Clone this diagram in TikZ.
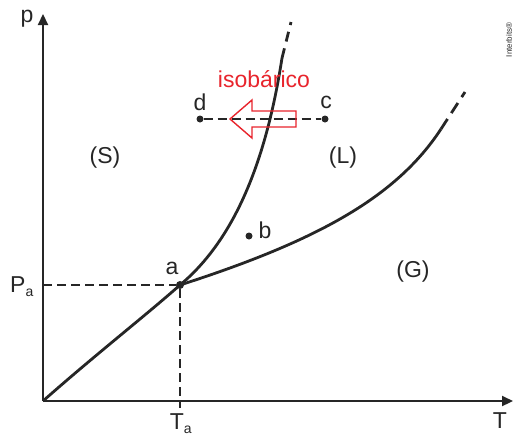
\documentclass[tikz,border=0pt]{standalone}
\usepackage{fontspec}
\setmainfont{Liberation Sans}
\usetikzlibrary{positioning, arrows.meta, calc}
\definecolor{isored}{RGB}{232,36,44}

\begin{document}
\begin{tikzpicture}[x=1pt, y=-1pt, font=\fontsize{23}{25}\selectfont]

% --- Styles ---
\tikzset{
    axisline/.style={line width=2.2pt, draw=black!85},
    phaseline/.style={line width=2.8pt, draw=black!85},
    guideline/.style={line width=1.8pt, draw=black!85, dash pattern=on 9pt off 5pt},
    statedot/.style={circle, fill=black!85, inner sep=0pt, minimum size=7pt},
    regionlabel/.style={text=black!85, inner sep=0pt},
}

\useasboundingbox (0,0) rectangle (516,437);

% --- Axes ---
\coordinate (orig) at (43,401);
\coordinate (ptop) at (43,14);
\coordinate (tend) at (513,401);
\draw[axisline, -{Triangle[length=11pt, width=10pt]}] (orig) -- (ptop);
\draw[axisline, -{Triangle[length=11pt, width=10pt]}] (orig) -- (tend);
\node[regionlabel] (plab) at (27,19) {p};
\node[regionlabel] (tlab) at (500,421) {T};

% --- Triple point and guides ---
\node[statedot, minimum size=8pt] (a) at (180,285) {};
\node[regionlabel] (alab) at (172,268) {a};
\coordinate (pa) at (43,285);
\coordinate (ta) at (180,408);
\draw[guideline] (pa) -- (a);
\draw[guideline] (a) -- (ta);
\node[regionlabel] (palab) at (22,287) {P\textsubscript{\fontsize{14}{15}\selectfont a}};
\node[regionlabel] (talab) at (181,424) {T\textsubscript{\fontsize{14}{15}\selectfont a}};

% --- Phase boundaries ---
\coordinate (fusend) at (282,58);
\coordinate (fustip) at (291,22);
\coordinate (vapend) at (441,129);
\coordinate (vaptip) at (465,92);
\draw[phaseline] (orig) .. controls (95,355) and (145,316) .. (a.center);
\draw[phaseline] (a.center) .. controls (228,245) and (264,175) .. (fusend);
\draw[phaseline, dash pattern=on 10pt off 7pt] (fusend) -- (fustip);
\draw[phaseline] (a.center) .. controls (320,240) and (397,196) .. (vapend);
\draw[phaseline, dash pattern=on 12pt off 7pt] (vapend) -- (vaptip);

% --- Isobaric process d <- c ---
\node[statedot] (d) at (200,119) {};
\node[statedot] (c) at (325,119) {};
\node[regionlabel] (dlab) at (200,102) {d};
\node[regionlabel] (clab) at (326,102) {c};
\draw[guideline] (d) -- (c);
\draw[isored, line width=1.4pt, line join=miter]
    (230,119) -- (252,100) -- (252,111) -- (296,111) -- (296,127) -- (252,127) -- (252,138) -- cycle;
\node[regionlabel, text=isored] (iso) at (264,79) {isobárico};

% --- Regions ---
\node[statedot] (b) at (249,236) {};
\node[regionlabel] (blab) at (265,230) {b};
\node[regionlabel] (sreg) at (105,158) {(S)};
\node[regionlabel] (lreg) at (343,158) {(L)};
\node[regionlabel] (greg) at (413,272) {(G)};
\node[regionlabel, rotate=90, font=\fontsize{8}{9}\selectfont] (mark) at (509,40) {Interbits®};

\end{tikzpicture}
\end{document}
